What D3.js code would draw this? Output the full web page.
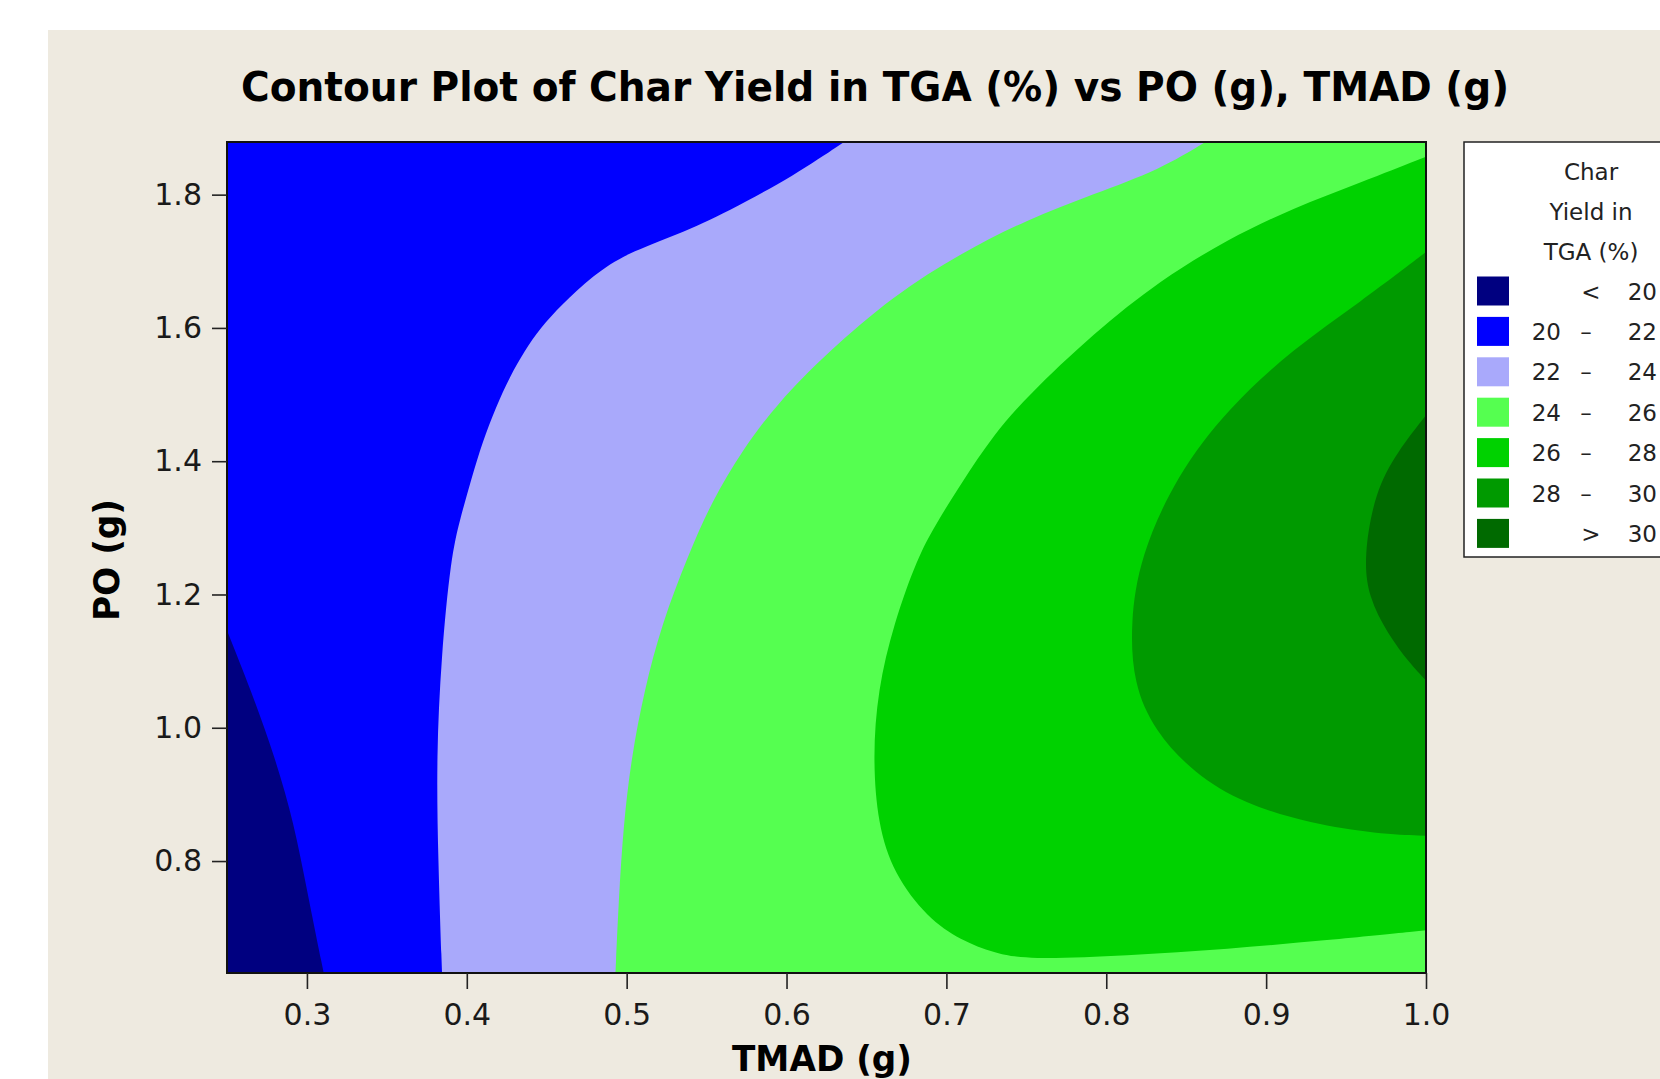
<!DOCTYPE html>
<html>
<head>
<meta charset="utf-8">
<script src="https://cdn.jsdelivr.net/npm/d3@7"></script>
<style>
  html, body { margin: 0; padding: 0; background: #ffffff; }
  svg { display: block; }
</style>
</head>
<body>
<svg id="chart" width="1660" height="1079"></svg>
<script>
// ---- data -------------------------------------------------------------
const tmadDomain = [0.25, 1.0];      // TMAD (g)
const poDomain   = [0.632, 1.879];   // PO (g)
const tmadTicks  = [0.3, 0.4, 0.5, 0.6, 0.7, 0.8, 0.9, 1.0];
const poTicks    = [0.8, 1.0, 1.2, 1.4, 1.6, 1.8];

// contour levels of Char Yield in TGA (%)
const levels = [20, 22, 24, 26, 28, 30];
const bandColors = ["#000080", "#0000FF", "#A9A9FB", "#55FF50", "#00D200", "#009A00", "#006A00"];

// isolines as [TMAD, PO] pairs; higher yield lies to the right of the walk
const iso20 = [[0.250,1.146],[0.265,1.056],[0.280,0.956],[0.292,0.856],[0.300,0.756],[0.3105,0.632]];
const iso22 = [[0.636,1.879],[0.605,1.829],[0.563,1.774],[0.532,1.740],[0.500,1.712],[0.479,1.679],
               [0.459,1.634],[0.446,1.600],[0.436,1.565],[0.427,1.527],[0.418,1.480],[0.410,1.430],
               [0.403,1.375],[0.396,1.315],[0.390,1.256],[0.384,1.106],[0.381,0.956],[0.382,0.806],[0.3845,0.632]];
const iso24 = [[0.862,1.879],[0.834,1.838],[0.792,1.801],[0.750,1.762],[0.709,1.712],[0.667,1.649],
               [0.625,1.562],[0.594,1.486],[0.573,1.419],[0.553,1.339],[0.538,1.256],[0.522,1.156],
               [0.511,1.056],[0.503,0.956],[0.498,0.855],[0.495,0.741],[0.493,0.632]];
const iso26 = [[1.000,1.857],[0.959,1.818],[0.917,1.780],[0.876,1.733],[0.834,1.672],[0.792,1.592],
               [0.750,1.496],[0.730,1.441],[0.709,1.366],[0.693,1.304],[0.682,1.256],[0.667,1.156],
               [0.657,1.056],[0.654,0.956],[0.657,0.856],[0.667,0.781],[0.688,0.715],[0.709,0.681],
               [0.730,0.662],[0.750,0.652],[0.813,0.658],[0.876,0.668],[0.938,0.681],[1.000,0.696]];
const iso28 = [[1.000,1.714],[0.959,1.639],[0.917,1.569],[0.876,1.479],[0.844,1.379],[0.821,1.256],
               [0.815,1.156],[0.817,1.066],[0.830,0.996],[0.855,0.931],[0.886,0.886],[0.928,0.856],
               [0.969,0.841],[1.000,0.838]];
const iso30 = [[1.000,1.469],[0.982,1.414],[0.968,1.354],[0.961,1.256],[0.964,1.196],[0.976,1.141],
               [0.990,1.096],[1.000,1.071]];
const isolines = [iso20, iso22, iso24, iso26, iso28, iso30];

// ---- layout -----------------------------------------------------------
const W = 1660, H = 1079;
const plot = { left: 227, right: 1426, top: 142, bottom: 973 };
const FONT = "'DejaVu Sans', Verdana, sans-serif";

const svg = d3.select("#chart");

svg.append("rect")
  .attr("x", 48).attr("y", 30)
  .attr("width", W - 48).attr("height", H - 30)
  .attr("fill", "#EEEAE0");

const x = d3.scaleLinear().domain(tmadDomain).range([plot.left, plot.right]);
const y = d3.scaleLinear().domain(poDomain).range([plot.bottom, plot.top]);

// ---- title ------------------------------------------------------------
svg.append("text")
  .attr("x", 875).attr("y", 101)
  .attr("text-anchor", "middle")
  .attr("font-family", FONT).attr("font-weight", "bold")
  .attr("font-size", 41)
  .attr("textLength", 1268).attr("lengthAdjust", "spacingAndGlyphs")
  .attr("fill", "#000")
  .text("Contour Plot of Char Yield in TGA (%) vs PO (g), TMAD (g)");

// ---- filled contour bands ---------------------------------------------
svg.append("clipPath").attr("id", "plotClip")
  .append("rect")
  .attr("x", x(tmadDomain[0])).attr("y", y(poDomain[1]))
  .attr("width", x(tmadDomain[1]) - x(tmadDomain[0]))
  .attr("height", y(poDomain[0]) - y(poDomain[1]));

const bands = svg.append("g").attr("clip-path", "url(#plotClip)");

// lowest band fills the whole area
bands.append("rect")
  .attr("x", x(tmadDomain[0])).attr("y", y(poDomain[1]))
  .attr("width", x(tmadDomain[1]) - x(tmadDomain[0]))
  .attr("height", y(poDomain[0]) - y(poDomain[1]))
  .attr("fill", bandColors[0]);

// position along the frame, counter-clockwise on screen starting bottom-left
function perim([u, v]) {
  const [u0, u1] = tmadDomain, [v0, v1] = poDomain, eps = 1e-6;
  if (Math.abs(v - v0) < eps) return (u - u0) / (u1 - u0);
  if (Math.abs(u - u1) < eps) return 1 + (v - v0) / (v1 - v0);
  if (Math.abs(v - v1) < eps) return 2 + (u1 - u) / (u1 - u0);
  return 3 + (v1 - v) / (v1 - v0);
}
const frameCorners = [
  [tmadDomain[0], poDomain[0]], [tmadDomain[1], poDomain[0]],
  [tmadDomain[1], poDomain[1]], [tmadDomain[0], poDomain[1]]
];
function closingCorners(iso) {
  const pe = perim(iso[iso.length - 1]);
  let ps = perim(iso[0]);
  if (ps <= pe) ps += 4;
  const out = [];
  for (let k = Math.floor(pe) + 1; k < ps; k++) out.push(frameCorners[k % 4]);
  return out;
}

const isoLine = d3.line()
  .x(d => x(d[0])).y(d => y(d[1]))
  .curve(d3.curveBasis);

isolines.forEach((iso, i) => {
  const tail = closingCorners(iso).map(c => `L${x(c[0])},${y(c[1])}`).join("");
  bands.append("path")
    .attr("d", isoLine(iso) + tail + "Z")
    .attr("fill", bandColors[i + 1]);
});

// frame
svg.append("rect")
  .attr("x", x(tmadDomain[0])).attr("y", y(poDomain[1]))
  .attr("width", x(tmadDomain[1]) - x(tmadDomain[0]))
  .attr("height", y(poDomain[0]) - y(poDomain[1]))
  .attr("fill", "none").attr("stroke", "#111").attr("stroke-width", 2);

// ---- axes -------------------------------------------------------------
const fmt = d3.format(".1f");

const xAxis = svg.append("g")
  .attr("transform", `translate(0,${plot.bottom})`)
  .call(d3.axisBottom(x).tickValues(tmadTicks).tickFormat(fmt).tickSize(16).tickPadding(15));
const yAxis = svg.append("g")
  .attr("transform", `translate(${plot.left},0)`)
  .call(d3.axisLeft(y).tickValues(poTicks).tickFormat(fmt).tickSize(15).tickPadding(10));

[xAxis, yAxis].forEach(a => {
  a.select(".domain").remove();
  a.selectAll(".tick line").attr("stroke", "#222").attr("stroke-width", 1.6);
  a.selectAll(".tick text")
    .attr("font-family", FONT).attr("font-size", 30).attr("fill", "#1a1a1a");
});

svg.append("text")
  .attr("x", 822).attr("y", 1071)
  .attr("text-anchor", "middle")
  .attr("font-family", FONT).attr("font-weight", "bold").attr("font-size", 36)
  .attr("textLength", 180).attr("lengthAdjust", "spacingAndGlyphs")
  .attr("fill", "#000")
  .text("TMAD (g)");

svg.append("text")
  .attr("transform", "translate(119,560) rotate(-90)")
  .attr("text-anchor", "middle")
  .attr("font-family", FONT).attr("font-weight", "bold").attr("font-size", 36)
  .attr("textLength", 122).attr("lengthAdjust", "spacingAndGlyphs")
  .attr("fill", "#000")
  .text("PO (g)");

// ---- legend -----------------------------------------------------------
const legend = svg.append("g");
legend.append("rect")
  .attr("x", 1464).attr("y", 142)
  .attr("width", 300).attr("height", 415)
  .attr("fill", "#ffffff").attr("stroke", "#222").attr("stroke-width", 1.5);

const legendTitle = ["Char", "Yield in", "TGA (%)"];
legendTitle.forEach((t, i) => {
  legend.append("text")
    .attr("x", 1591).attr("y", 180 + i * 40)
    .attr("text-anchor", "middle")
    .attr("font-family", FONT).attr("font-size", 23).attr("fill", "#222")
    .text(t);
});

const bandText = bandColors.map((c, i) => {
  if (i === 0) return ["", "<", levels[0]];
  if (i === bandColors.length - 1) return ["", ">", levels[levels.length - 1]];
  return [levels[i - 1], "–", levels[i]];
});

bandColors.forEach((c, i) => {
  const cy = 291 + i * 40.4;
  legend.append("rect")
    .attr("x", 1477).attr("y", cy - 14.5)
    .attr("width", 32).attr("height", 29)
    .attr("fill", c);
  const [lo, mid, hi] = bandText[i];
  const base = cy + 8.5;
  const txt = (xx, anchor, s) => legend.append("text")
    .attr("x", xx).attr("y", base).attr("text-anchor", anchor)
    .attr("font-family", FONT).attr("font-size", 23).attr("fill", "#222")
    .text(s);
  if (lo !== "") txt(1561, "end", lo);
  txt(lo !== "" ? 1586 : 1591, "middle", mid);
  txt(1657, "end", hi);
});
</script>
</body>
</html>
